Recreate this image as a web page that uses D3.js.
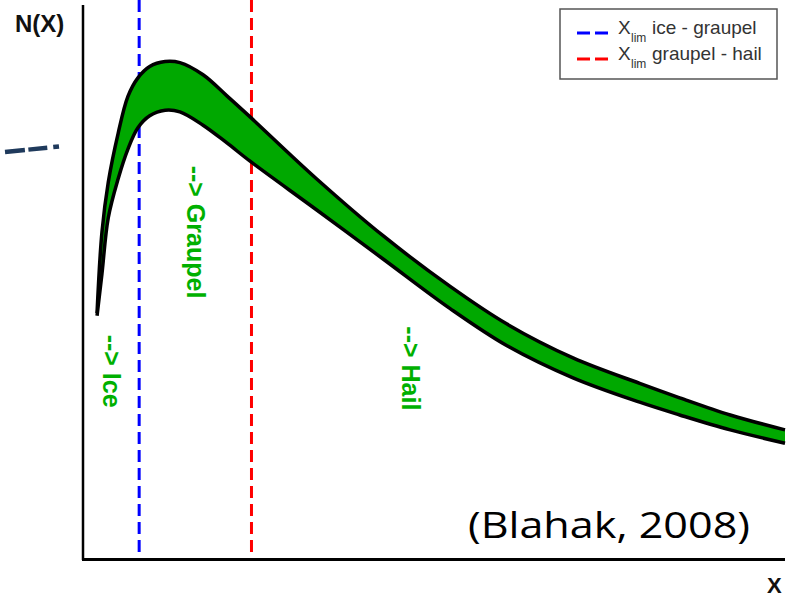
<!DOCTYPE html>
<html>
<head>
<meta charset="utf-8">
<script src="https://cdn.jsdelivr.net/npm/d3@7"></script>
<style>
  body { margin: 0; background: #fff; }
  svg { display: block; }
</style>
</head>
<body>
<svg id="chart"></svg>
<script>
// size distribution band (arbitrary units)
var xs    = [0.20, 0.27, 0.36, 0.50, 0.64, 0.78, 0.95, 1.17, 1.38, 1.71, 2.05, 2.38, 3.33, 4.27, 5.23, 6.04, 6.98, 7.93, 8.50, 9.22, 10.0];
var upper = [0.444, 0.590, 0.680, 0.768, 0.835, 0.868, 0.889, 0.898, 0.896, 0.874, 0.836, 0.798, 0.686, 0.584, 0.492, 0.424, 0.363, 0.317, 0.291, 0.260, 0.233];
var lower = [0.439, 0.515, 0.616, 0.686, 0.740, 0.778, 0.800, 0.810, 0.807, 0.783, 0.751, 0.718, 0.630, 0.542, 0.452, 0.385, 0.327, 0.283, 0.260, 0.233, 0.209];

// class limits
var limits = [{name: "ice - graupel", x: 0.80, color: "#0000ff"},
              {name: "graupel - hail", x: 2.40, color: "#ff0000"}];

// class labels (x position, y start)
var classLabels = [{text: "--> Ice", x: 0.28, y: 0.405},
                   {text: "--> Graupel", x: 1.48, y: 0.710},
                   {text: "--> Hail", x: 4.55, y: 0.420}];

var width = 788, height = 599;
var svg = d3.select("#chart").attr("width", width).attr("height", height);

var x = d3.scaleLinear().domain([0, 10]).range([83, 785]);
var y = d3.scaleLinear().domain([0, 1]).range([559, 5]);

var band = xs.map(function(d, i) { return {x: d, hi: upper[i], lo: lower[i]}; });

// stray dashed fragment on the left
svg.append("line")
  .attr("x1", 5).attr("y1", 152).attr("x2", 59).attr("y2", 146.5)
  .style("stroke", "#1f3a5c").style("stroke-width", 4.5)
  .style("stroke-dasharray", "20,3.5,19,6,6");

// limit lines
svg.selectAll(".lim")
  .data(limits)
  .enter().append("line")
  .attr("class", "lim")
  .attr("x1", function(d) { return x(d.x); })
  .attr("x2", function(d) { return x(d.x); })
  .attr("y1", 0).attr("y2", 556)
  .style("stroke", function(d) { return d.color; })
  .style("stroke-width", 3)
  .style("stroke-dasharray", "12,6");

// green band
var curve = d3.curveCatmullRom.alpha(0.5);
var area = d3.area()
  .x(function(d) { return x(d.x); })
  .y0(function(d) { return y(d.lo); })
  .y1(function(d) { return y(d.hi); })
  .curve(curve);

svg.append("path")
  .datum(band)
  .attr("d", area)
  .style("fill", "#00a800");

var lineHi = d3.line().x(function(d) { return x(d.x); }).y(function(d) { return y(d.hi); }).curve(curve);
var lineLo = d3.line().x(function(d) { return x(d.x); }).y(function(d) { return y(d.lo); }).curve(curve);

[lineHi, lineLo].forEach(function(l) {
  svg.append("path")
    .datum(band)
    .attr("d", l)
    .style("fill", "none")
    .style("stroke", "#000")
    .style("stroke-width", 3.5);
});

// class labels, rotated
svg.selectAll(".cls")
  .data(classLabels)
  .enter().append("text")
  .attr("class", "cls")
  .attr("transform", function(d) { return "translate(" + x(d.x) + "," + y(d.y) + ") rotate(90)"; })
  .style("font-family", "Liberation Sans, Arial, sans-serif")
  .style("font-weight", "bold")
  .style("font-size", "25px")
  .style("fill", "#00b000")
  .text(function(d) { return d.text; });

// axes (plain lines, no ticks)
svg.append("line")
  .attr("x1", x(0)).attr("x2", x(0)).attr("y1", 5).attr("y2", 560)
  .style("stroke", "#000").style("stroke-width", 2.5);
svg.append("line")
  .attr("x1", 82).attr("x2", x(10)).attr("y1", 559.5).attr("y2", 559.5)
  .style("stroke", "#000").style("stroke-width", 3);

svg.append("text")
  .attr("x", 15).attr("y", 32)
  .style("font-family", "Liberation Sans, Arial, sans-serif")
  .style("font-weight", "bold").style("font-size", "24px")
  .style("fill", "#111")
  .text("N(X)");

svg.append("text")
  .attr("x", 767).attr("y", 593)
  .style("font-family", "Liberation Sans, Arial, sans-serif")
  .style("font-weight", "bold").style("font-size", "22px")
  .style("fill", "#111")
  .text("X");

// legend
var legend = svg.append("g");
legend.append("rect")
  .attr("x", 560).attr("y", 9).attr("width", 217).attr("height", 70)
  .style("fill", "#fff").style("stroke", "#555").style("stroke-width", 1.5);

var item = legend.selectAll(".item")
  .data(limits)
  .enter().append("g")
  .attr("class", "item")
  .attr("transform", function(d, i) { return "translate(0," + (i * 26) + ")"; });

item.append("line")
  .attr("x1", 577).attr("x2", 608).attr("y1", 33).attr("y2", 33)
  .style("stroke", function(d) { return d.color; })
  .style("stroke-width", 3)
  .style("stroke-dasharray", "13,5");

var itext = item.append("text")
  .attr("y", 34)
  .style("font-family", "Liberation Sans, Arial, sans-serif")
  .style("font-size", "19px")
  .style("fill", "#333");
itext.append("tspan").attr("x", 618).style("font-weight", "300").text("X");
itext.append("tspan").attr("x", 631).attr("dy", 8).style("font-size", "12px").text("lim");
itext.append("tspan").attr("x", 652).attr("dy", -8).text(function(d) { return d.name; });

// citation
svg.append("text")
  .attr("x", 468).attr("y", 538)
  .attr("textLength", 282).attr("lengthAdjust", "spacingAndGlyphs")
  .style("font-family", "Open Sans, Noto Sans, sans-serif")
  .style("font-size", "36px")
  .style("fill", "#000")
  .text("(Blahak, 2008)");
</script>
</body>
</html>
